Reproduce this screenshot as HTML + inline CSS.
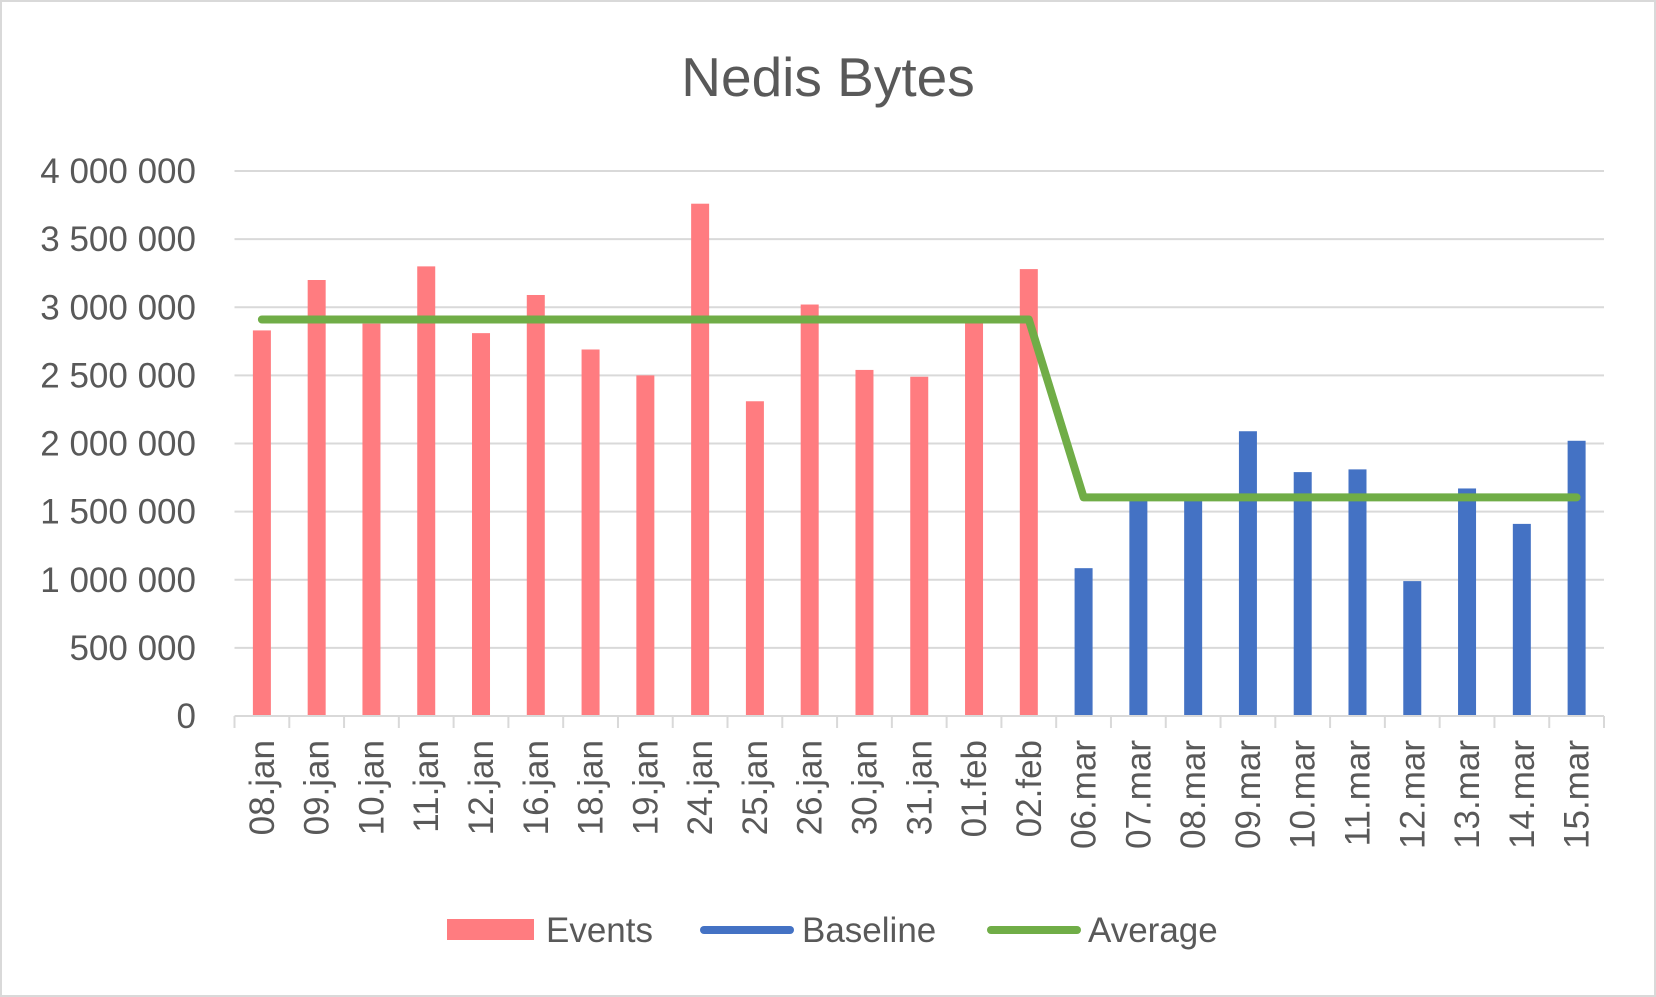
<!DOCTYPE html>
<html><head><meta charset="utf-8"><style>
html,body{margin:0;padding:0;background:#fff}
svg{display:block;font-family:"Liberation Sans",sans-serif}
</style></head><body>
<svg id="chart" width="1656" height="997" viewBox="0 0 1656 997">
<rect x="1" y="1" width="1654" height="995" fill="#fff" stroke="#d9d9d9" stroke-width="2"/>
<text x="828" y="96" text-anchor="middle" font-size="55" fill="#595959">Nedis Bytes</text>
<g id="grid"></g><g id="bars"></g><g id="axis"></g><g id="line"></g>
<g>
<rect x="447" y="919" width="87" height="21" fill="#FF7C80"/>
<text x="546" y="942" font-size="35" fill="#595959">Events</text>
<line x1="704" y1="930" x2="790" y2="930" stroke="#4472C4" stroke-width="8" stroke-linecap="round"/>
<text x="802" y="942" font-size="35" fill="#595959">Baseline</text>
<line x1="991" y1="930" x2="1077" y2="930" stroke="#70AD47" stroke-width="8" stroke-linecap="round"/>
<text x="1088" y="942" font-size="35" fill="#595959">Average</text>
</g>
</svg>
<script>
const categories=["08.jan","09.jan","10.jan","11.jan","12.jan","16.jan","18.jan","19.jan","24.jan","25.jan","26.jan","30.jan","31.jan","01.feb","02.feb","06.mar","07.mar","08.mar","09.mar","10.mar","11.mar","12.mar","13.mar","14.mar","15.mar"];
const events=[2830000,3200000,2880000,3300000,2810000,3090000,2690000,2500000,3760000,2310000,3020000,2540000,2490000,2920000,3280000,null,null,null,null,null,null,null,null,null,null];
const baseline=[null,null,null,null,null,null,null,null,null,null,null,null,null,null,null,1085000,1620000,1620000,2090000,1790000,1810000,990000,1670000,1410000,2020000];
const average=[2910000,2910000,2910000,2910000,2910000,2910000,2910000,2910000,2910000,2910000,2910000,2910000,2910000,2910000,2910000,1605000,1605000,1605000,1605000,1605000,1605000,1605000,1605000,1605000,1605000];
const yTicks=[0,500000,1000000,1500000,2000000,2500000,3000000,3500000,4000000];
const yTickLabels=["0","500 000","1 000 000","1 500 000","2 000 000","2 500 000","3 000 000","3 500 000","4 000 000"];
const X0=234.5,X1=1604,Y0=716,Y1=171,YMAX=4000000;
const bw=(X1-X0)/categories.length;
const y=v=>Y0-(v/YMAX)*(Y0-Y1);
const xc=i=>X0+bw*(i+0.5);
const NS="http://www.w3.org/2000/svg";
function mk(t,a,p){const e=document.createElementNS(NS,t);for(const k in a)e.setAttribute(k,a[k]);p.appendChild(e);return e;}
const grid=document.getElementById('grid'),bars=document.getElementById('bars'),axis=document.getElementById('axis'),lineG=document.getElementById('line');
yTicks.forEach((v,i)=>{
  if(v>0){const g=mk('line',{x1:X0,x2:X1,y1:y(v),y2:y(v),stroke:'#d9d9d9','stroke-width':2},grid);
  
  }
  const t=mk('text',{x:196,y:y(v)+12,'text-anchor':'end','font-size':35,fill:'#595959'},axis);
  t.textContent=yTickLabels[i];
  
  
});
const BWID=18;
categories.forEach((c,i)=>{
  if(events[i]!=null){const r=mk('rect',{x:xc(i)-BWID/2,y:y(events[i]),width:BWID,height:Y0-y(events[i]),fill:'#FF7C80'},bars);
  
  }
  if(baseline[i]!=null){const r=mk('rect',{x:xc(i)-BWID/2,y:y(baseline[i]),width:BWID,height:Y0-y(baseline[i]),fill:'#4472C4'},bars);
  
  }
  const t=mk('text',{transform:`translate(${xc(i)+12},740) rotate(-90)`,'text-anchor':'end','font-size':35,fill:'#595959'},axis);
  t.textContent=c;
  
  
});
const ax=mk('line',{x1:X0,x2:X1,y1:Y0,y2:Y0,stroke:'#d9d9d9','stroke-width':2},axis);


for(let i=0;i<=categories.length;i++){const tk=mk('line',{x1:X0+bw*i,x2:X0+bw*i,y1:Y0,y2:Y0+12,stroke:'#d9d9d9','stroke-width':2},axis);

}
const pts=average.map((v,i)=>xc(i)+','+y(v)).join(' ');
const pl=mk('polyline',{points:pts,fill:'none',stroke:'#70AD47','stroke-width':8,'stroke-linecap':'round','stroke-linejoin':'round'},lineG);


</script>
</body></html>
